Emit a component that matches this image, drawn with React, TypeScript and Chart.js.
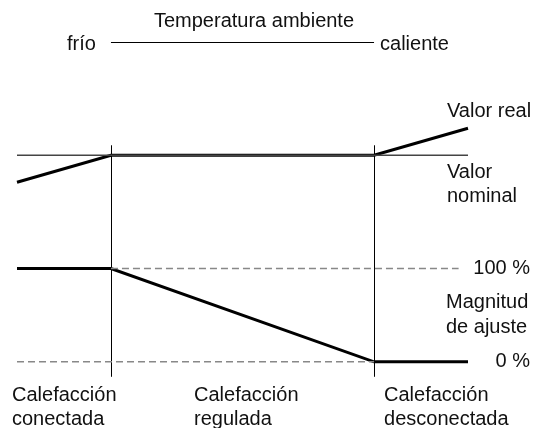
import React, { useEffect, useRef } from "react";
import { Chart, registerables } from "chart.js";

Chart.register(...registerables);

// Ambient temperature axis (arbitrary units): start, heating-on limit, heating-off limit, end
const ambientTemp = [0, 10, 38, 48];
// Room temperature (°C, schematic)
const actualValue = [19, 20, 20, 21];
const nominalX = [0, 48];
const nominalValue = [20, 20];
// Adjustment magnitude (%)
const adjustMagnitude = [100, 100, 0, 0];
const ref100X = [10, 47];
const ref100 = [100, 100];
const ref0X = [0, 38];
const ref0 = [0, 0];
const switchPoints = [10, 38];

const titleText = "Temperatura ambiente";
const coldText = "frío";
const hotText = "caliente";
const rightLabels = {
  real: ["Valor real"],
  nominal: ["Valor", "nominal"],
  p100: "100 %",
  magnitude: ["Magnitud", "de ajuste"],
  p0: "0 %",
};
const stateLabels = [
  ["Calefacción", "conectada"],
  ["Calefacción", "regulada"],
  ["Calefacción", "desconectada"],
];

const FONT = '20px "Liberation Sans", Arial, Helvetica, sans-serif';
const TEXT = "#111";

const pts = (xs: number[], ys: number[]) => xs.map((x, i) => ({ x, y: ys[i] }));

const diagramPlugin = {
  id: "diagram",
  beforeDatasetsDraw(chart: any) {
    const { ctx, scales } = chart;
    const x = scales.x;
    const yT = scales.yTemp;
    const yM = scales.yMag;
    const top = yT.getPixelForValue(nominalValue[0]) - 10;
    const bottom = yM.getPixelForValue(0) + 15;
    ctx.save();
    ctx.strokeStyle = "#000";
    ctx.lineWidth = 1;
    switchPoints.forEach((v) => {
      const px = Math.round(x.getPixelForValue(v)) + 0.5;
      ctx.beginPath();
      ctx.moveTo(px, top);
      ctx.lineTo(px, bottom);
      ctx.stroke();
    });
    // ambient temperature scale line
    const ly = 42.5;
    ctx.beginPath();
    ctx.moveTo(x.getPixelForValue(switchPoints[0]), ly);
    ctx.lineTo(x.getPixelForValue(switchPoints[1]), ly);
    ctx.stroke();
    ctx.restore();
  },
  afterDraw(chart: any) {
    const { ctx, scales } = chart;
    const x = scales.x;
    const yT = scales.yTemp;
    const yM = scales.yMag;
    ctx.save();
    ctx.font = FONT;
    ctx.fillStyle = TEXT;
    ctx.textBaseline = "middle";

    const x1 = x.getPixelForValue(switchPoints[0]);
    const x2 = x.getPixelForValue(switchPoints[1]);

    ctx.textAlign = "center";
    ctx.fillText(titleText, 254, 21);
    ctx.textAlign = "right";
    ctx.fillText(coldText, x1 - 15, 44);
    ctx.textAlign = "left";
    ctx.fillText(hotText, x2 + 6, 44);

    const yNom = yT.getPixelForValue(nominalValue[0]);
    const lx = 447;
    ctx.fillText(rightLabels.real[0], lx, yNom - 44);
    ctx.fillText(rightLabels.nominal[0], lx, yNom + 17);
    ctx.fillText(rightLabels.nominal[1], lx, yNom + 41);

    const y100 = yM.getPixelForValue(100);
    const y0 = yM.getPixelForValue(0);
    ctx.textAlign = "right";
    ctx.fillText(rightLabels.p100, 530, y100);
    ctx.fillText(rightLabels.p0, 530, y0);
    ctx.textAlign = "left";
    ctx.fillText(rightLabels.magnitude[0], 446, y100 + 34);
    ctx.fillText(rightLabels.magnitude[1], 446, y100 + 59);

    const bx = [12, 194, x2 + 10];
    stateLabels.forEach((lines, i) => {
      ctx.fillText(lines[0], bx[i], y0 + 34);
      ctx.fillText(lines[1], bx[i], y0 + 58);
    });
    ctx.restore();
  },
};

export default function App() {
  const ref = useRef<HTMLCanvasElement | null>(null);
  useEffect(() => {
    document.body.style.margin = "0";
    if (!ref.current) return;
    const chart = new Chart(ref.current, {
      type: "line",
      data: {
        datasets: [
          {
            label: "Valor nominal",
            data: pts(nominalX, nominalValue),
            yAxisID: "yTemp",
            borderColor: "#444",
            borderWidth: 1.5,
            pointRadius: 0,
            clip: false,
          },
          {
            label: "100 %",
            data: pts(ref100X, ref100),
            yAxisID: "yMag",
            borderColor: "#888",
            borderWidth: 1.5,
            borderDash: [7, 4],
            pointRadius: 0,
            clip: false,
          },
          {
            label: "0 %",
            data: pts(ref0X, ref0),
            yAxisID: "yMag",
            borderColor: "#888",
            borderWidth: 1.5,
            borderDash: [7, 4],
            pointRadius: 0,
            clip: false,
          },
          {
            label: "Valor real",
            data: pts(ambientTemp, actualValue),
            yAxisID: "yTemp",
            borderColor: "#000",
            borderWidth: 3,
            pointRadius: 0,
            clip: false,
          },
          {
            label: "Magnitud de ajuste",
            data: pts(ambientTemp, adjustMagnitude),
            yAxisID: "yMag",
            borderColor: "#000",
            borderWidth: 3,
            pointRadius: 0,
            clip: false,
          },
        ],
      } as any,
      options: {
        animation: false,
        responsive: false,
        devicePixelRatio: 1,
        events: [],
        layout: { padding: { left: 17, right: 65, top: 0, bottom: 0 } },
        plugins: { legend: { display: false }, tooltip: { enabled: false } },
        scales: {
          x: { type: "linear", min: 0, max: 48, display: false },
          yTemp: { type: "linear", min: 9.9, max: 25.75, display: false, position: "left" },
          yMag: { type: "linear", min: -71, max: 388, display: false, position: "right" },
        },
      } as any,
      plugins: [diagramPlugin],
    });
    return () => chart.destroy();
  }, []);
  return (
    <div style={{ width: 533, height: 428 }}>
      <canvas ref={ref} width={533} height={428} style={{ display: "block" }} />
    </div>
  );
}
